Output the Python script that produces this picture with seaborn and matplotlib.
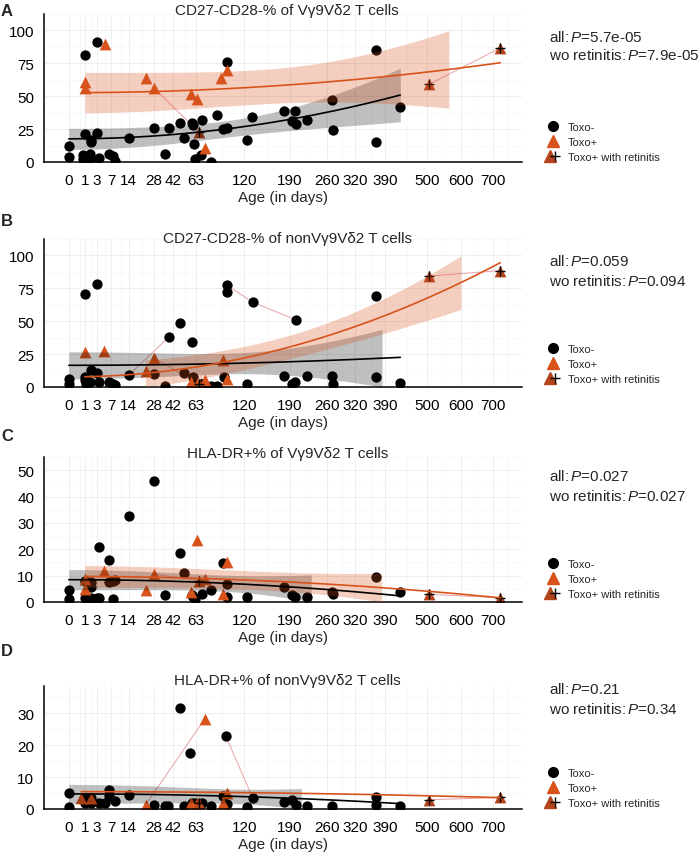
import numpy as np
import pandas as pd
import seaborn as sns
import matplotlib.pyplot as plt
from matplotlib.lines import Line2D
from matplotlib.legend_handler import HandlerTuple

# ---- data ----
age_ticks = [0, 1, 3, 7, 14, 28, 42, 63, 120, 190, 260, 320, 390, 500, 600, 700]

titles = ["CD27-CD28-% of V\u03b39V\u03b42 T cells",
          "CD27-CD28-% of nonV\u03b39V\u03b42 T cells",
          "HLA-DR+% of V\u03b39V\u03b42 T cells",
          "HLA-DR+% of nonV\u03b39V\u03b42 T cells"]
p_all = ["5.7e-05", "0.059", "0.027", "0.21"]
p_wo = ["7.9e-05", "0.094", "0.027", "0.34"]

A_neg_age = [0, 0, 1, 3, 1, 3, 2, 2, 0.8, 1.8, 0.8, 1.7, 3.6, 6.4, 7.5, 8.4, 1.2, 14, 28.5, 36, 39, 48, 52, 59, 60, 61,
             62, 69, 68, 79, 86, 92, 97, 97, 124, 131, 181, 200, 194, 201, 221, 270, 272, 367, 367, 428]
A_neg_val = [12, 4, 81, 91, 21, 22, 17, 15, 5.2, 6, 2.2, 1.7, 2.7, 5.9, 4.7, 0.5, 0.5, 18, 25.7, 6, 26, 30, 18, 30, 28, 14,
             2, 32, 5, 0, 36, 25, 26, 76, 17, 34, 39, 39, 31, 29, 32, 47, 24, 85, 15, 42]
A_pos_age = [1, 1, 5, 23, 28, 58, 64, 72, 90, 98]
A_pos_val = [61, 56, 90, 64, 56.5, 51.6, 47.6, 11, 63.5, 70]
A_ret_age = [66, 505, 725]
A_ret_val = [22.5, 59, 86.6]

B_neg_age = [0, 0, 1, 3, 2, 3, 1, 1, 1.2, 1.8, 3.6, 6.4, 7.5, 8.4, 14, 28.5, 36, 39, 48, 52, 59, 60, 61, 62, 68, 69, 79,
             86, 93.5, 97, 97, 124, 132, 201, 181, 194, 200, 221, 270, 272, 367, 367, 428]
B_neg_val = [6, 2, 71, 78.6, 12.8, 10.3, 7.4, 5, 2.5, 3.7, 3.7, 3.7, 2, 1.7, 9, 9.8, 1, 38, 48.6, 10.8, 34.4, 7.4, 1, 1,
             2, 2.5, 1, 1, 7.9, 77.4, 72.5, 2, 64.4, 51, 8.6, 2, 3.7, 8.1, 8.1, 2, 69.5, 7.9, 3]
B_pos_age = [1, 4.8, 23, 28.5, 58, 64, 72, 92, 98]
B_pos_val = [26.5, 27, 11.8, 22, 3.7, 2, 5.4, 20.9, 6]
B_ret_age = [66, 505, 725]
B_ret_val = [2, 84.3, 88.5]

C_neg_age = [0, 0, 1, 2, 2, 3.6, 6.4, 6.4, 7.5, 8.4, 1, 1.2, 2, 3, 3.6, 7.5, 14, 28, 36, 48, 52, 59, 60, 62, 69, 79,
             92, 97, 97, 124, 181, 194, 200, 221, 270, 272, 367, 428]
C_neg_val = [4.4, 1.2, 8.1, 7.5, 5.6, 20.9, 15.9, 7.5, 8.1, 8.4, 1.5, 1.5, 1.5, 1.5, 1.5, 1, 32.8, 46, 2.5, 18.4, 10.9,
             2.5, 1.9, 1.2, 2.9, 4.4, 14.8, 6.9, 2, 2, 5.6, 2.5, 1.9, 1.9, 3.8, 3.1, 9.4, 3.8]
C_pos_age = [1, 1, 4.8, 23, 28, 58, 64, 72, 92, 98]
C_pos_val = [4.75, 8.75, 11.9, 4.4, 10.6, 3.75, 23.4, 8.6, 3, 15]
C_ret_age = [66, 505, 725]
C_ret_val = [8.1, 2.9, 1.6]

D_neg_age = [0, 0, 1, 1, 2, 2, 3.6, 5, 6.4, 6.4, 8.4, 14, 28, 36, 38, 48, 52, 57.6, 59, 62, 69, 79, 92, 96, 97, 124,
             132, 181, 194, 201, 221, 270, 367, 367, 428]
D_neg_val = [5, 0.5, 1.9, 3.3, 3.3, 1.9, 2, 1.8, 5.9, 4.1, 2.4, 4.3, 1.3, 0.8, 0.8, 31.5, 0.8, 17.6, 1.8, 1.8, 1.8, 1,
             4.1, 22.8, 1.5, 0.7, 3.3, 2.1, 2.8, 1.3, 0.8, 0.8, 3.9, 1.3, 0.8]
D_pos_age = [0.6, 2, 23, 58, 64, 72, 92, 98]
D_pos_val = [3.5, 3.3, 1.3, 1.8, 2, 28.2, 1.8, 5]
D_ret_age = [66, 505, 725]
D_ret_val = [2, 2.9, 3.6]

# repeated samples of one child, joined by thin lines (group, age)
A_links = [[("p", 28), ("r", 66)], [("r", 505), ("r", 725)]]
B_links = [[("n", 97), ("n", 132), ("n", 201)], [("n", 14), ("n", 39)], [("p", 28.5), ("r", 66)],
           [("r", 505), ("r", 725)]]
C_links = [[("p", 28), ("r", 66)], [("r", 505), ("r", 725)]]
D_links = [[("p", 23), ("p", 72)], [("n", 96), ("n", 132)], [("r", 505), ("r", 725)]]

ORANGE = "#D8531C"
RET = "#B3441B"
PINK = "#E8A3A6"
W, H = 700, 853


def sq(x):
    x = np.asarray(x, float)
    return np.sign(x) * np.sqrt(np.abs(x))


def sq_inv(x):
    x = np.asarray(x, float)
    return np.sign(x) * x ** 2


def smooth(ax, x, y, color, fill, alpha, hi):
    # lm fit with 95% band, values outside the y limits dropped like ggplot does
    x = np.asarray(x, float)
    y = np.asarray(y, float)
    n = len(x)
    b, a = np.polyfit(x, y, 1)
    grid = np.linspace(x.min(), x.max(), 300)
    fit = a + b * grid
    s2 = np.sum((y - a - b * x) ** 2) / (n - 2)
    se = np.sqrt(s2 * (1 / n + (grid - x.mean()) ** 2 / np.sum((x - x.mean()) ** 2)))
    t = 1.96 + 2.5 / (n - 2)
    low, up = fit - t * se, fit + t * se
    ok = (low >= 0) & (up <= hi)
    ax.fill_between(grid, low, up, where=ok, color=fill, alpha=alpha, lw=0, zorder=3)
    inl = (fit >= 0) & (fit <= hi)
    ax.plot(grid[inl], fit[inl], color=color, lw=1.2, zorder=4)


def main():
    sns.set_style("white")
    plt.rcParams["font.family"] = ["Liberation Sans", "DejaVu Sans"]
    plt.rcParams["mathtext.fontset"] = "custom"
    plt.rcParams["mathtext.it"] = "Liberation Sans:italic"
    plt.rcParams["mathtext.rm"] = "Liberation Sans"

    fig = plt.figure(figsize=(7, 8.53), dpi=100)

    panels = [
        ("A", (A_neg_age, A_neg_val), (A_pos_age, A_pos_val), (A_ret_age, A_ret_val), A_links),
        ("B", (B_neg_age, B_neg_val), (B_pos_age, B_pos_val), (B_ret_age, B_ret_val), B_links),
        ("C", (C_neg_age, C_neg_val), (C_pos_age, C_pos_val), (C_ret_age, C_ret_val), C_links),
        ("D", (D_neg_age, D_neg_val), (D_pos_age, D_pos_val), (D_ret_age, D_ret_val), D_links),
    ]
    # layout in pixels: top, bottom, title baseline, letter y, p rows, legend middle row
    boxes = [(15, 163, 15, 11, 37, 56, 143),
             (240, 388, 243, 222, 262, 282, 365),
             (458, 603, 458, 437, 477, 497, 580),
             (687, 810, 685, 652, 690, 710, 789)]
    yset = [(110, 100, [0, 25, 50, 75, 100]),
            (110, 100, [0, 25, 50, 75, 100]),
            (55, 50, [0, 10, 20, 30, 40, 50]),
            (38.5, 35, [0, 10, 20, 30])]
    minor_ages = [0.5, 2, 5, 10.5, 21, 35, 52.5, 91.5, 155, 225, 290, 355, 445, 550, 650, 750]

    left, right = 44, 522
    for i, (letter, neg, pos, ret, links) in enumerate(panels):
        top, bot, tb, ly, py1, py2, legy = boxes[i]
        ytop, yhi, yt = yset[i]
        ax = fig.add_axes([left / W, 1 - bot / H, (right - left) / W, (bot - top) / H])
        ax.set_xscale("function", functions=(sq, sq_inv))

        groups = {"n": neg, "p": pos, "r": ret}
        rows = []
        for k, track in enumerate(links):
            for g, a in track:
                ages, vals = groups[g]
                rows.append((k, a, vals[ages.index(a)]))
        ldf = pd.DataFrame(rows, columns=["pid", "age", "val"])
        sns.lineplot(data=ldf, x="age", y="val", units="pid", estimator=None, color=PINK,
                     lw=0.7, ax=ax, zorder=1, legend=False)

        sns.scatterplot(x=neg[0], y=neg[1], color="black", marker="o", s=55, linewidth=0, ax=ax, zorder=2)
        sns.scatterplot(x=pos[0], y=pos[1], color=ORANGE, marker="^", s=72, linewidth=0, ax=ax, zorder=2)
        sns.scatterplot(x=ret[0], y=ret[1], color=RET, marker="^", s=72, linewidth=0, ax=ax, zorder=2)
        sns.scatterplot(x=ret[0], y=ret[1], color="black", marker="+", s=45, linewidth=1.0, ax=ax, zorder=2.5)

        smooth(ax, neg[0], neg[1], "black", "black", 0.25, yhi)
        smooth(ax, pos[0] + ret[0], pos[1] + ret[1], ORANGE, ORANGE, 0.28, yhi)

        ax.set_xlim(-2.4, 800)
        ax.set_xticks(age_ticks)
        ax.set_xticklabels([str(t) for t in age_ticks])
        ax.set_xticks(minor_ages, minor=True)
        ax.set_ylim(0, ytop)
        ax.set_yticks(yt)
        step = yt[1] - yt[0]
        ax.set_yticks([v + step / 2 for v in yt], minor=True)
        ax.grid(which="major", color="#EBEBEB", lw=0.6)
        ax.grid(which="minor", color="#F5F5F5", lw=0.4)
        ax.set_axisbelow(True)
        sns.despine(ax=ax)
        for s in ["left", "bottom"]:
            ax.spines[s].set_linewidth(1.1)
            ax.spines[s].set_color("black")
        ax.tick_params(which="major", length=3, width=1, labelsize=11, color="black", labelcolor="black", pad=4)
        ax.tick_params(which="minor", length=0)
        ax.tick_params(axis="x", pad=5)
        ax.set_xlabel("Age (in days)", fontsize=11, labelpad=2)
        ax.set_ylabel("")

        fig.text((left + right) / 2 / W + 0.006, 1 - tb / H, titles[i], ha="center", va="baseline", fontsize=11)
        fig.text(1 / W, 1 - ly / H, letter, ha="left", va="center", fontsize=12, fontweight="bold")
        fig.text(549 / W, 1 - py1 / H, "all:$\\,\\mathit{P}$=" + p_all[i], va="center", fontsize=11)
        fig.text(549 / W, 1 - py2 / H, "wo retinitis:$\\,\\mathit{P}$=" + p_wo[i], va="center", fontsize=11)

        h_neg = Line2D([], [], ls="", marker="o", color="black", markersize=7)
        h_pos = Line2D([], [], ls="", marker="^", color=ORANGE, markersize=8)
        h_ret = (Line2D([], [], ls="", marker="^", color=RET, markersize=8),
                 Line2D([], [], ls="", marker="+", color="black", markersize=7, markeredgewidth=1.0))
        fig.legend([h_neg, h_pos, h_ret], ["Toxo-", "Toxo+", "Toxo+ with retinitis"],
                   handler_map={tuple: HandlerTuple(ndivide=None)},
                   loc="center left", bbox_to_anchor=(547 / W, 1 - legy / H), frameon=False, fontsize=8,
                   handlelength=1.0, handletextpad=0.9, labelspacing=0.45, borderpad=0, borderaxespad=0)

    fig.savefig("out.png", dpi=100)


if __name__ == "__main__":
    main()
